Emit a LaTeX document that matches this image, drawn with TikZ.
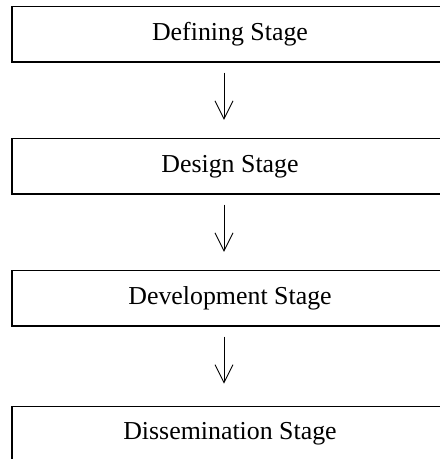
\documentclass[tikz,border=0pt]{standalone}
\usepackage{fontspec}
\setmainfont{Liberation Serif}
\usepackage{tikz}
\usetikzlibrary{positioning, arrows.meta}

\begin{document}
\begin{tikzpicture}[
    stage/.style={rectangle, draw, line width=0.9pt, minimum width=10.9cm, minimum height=1.39cm, font=\fontsize{18.4}{22}\selectfont},
    flow/.style={-{Straight Barb[length=0.45cm, width=0.45cm, line width=0.6pt]}, line width=0.6pt, shorten <=0.25cm, shorten >=0.45cm}
]
\useasboundingbox (0, 0) rectangle (11, -11.475);

\node[stage] (defining) at (5.75, -0.856) {Defining Stage};
\node[stage] (design) at (5.75, -4.156) {Design Stage};
\node[stage] (development) at (5.75, -7.456) {Development Stage};
\node[stage] (dissemination) at (5.75, -10.85) {Dissemination Stage};

\draw[flow] ([xshift=-0.15cm]defining.south) -- ([xshift=-0.15cm]design.north);
\draw[flow] ([xshift=-0.15cm]design.south) -- ([xshift=-0.15cm]development.north);
\draw[flow, shorten >=0.55cm] ([xshift=-0.15cm]development.south) -- ([xshift=-0.15cm]dissemination.north);

\end{tikzpicture}
\end{document}
